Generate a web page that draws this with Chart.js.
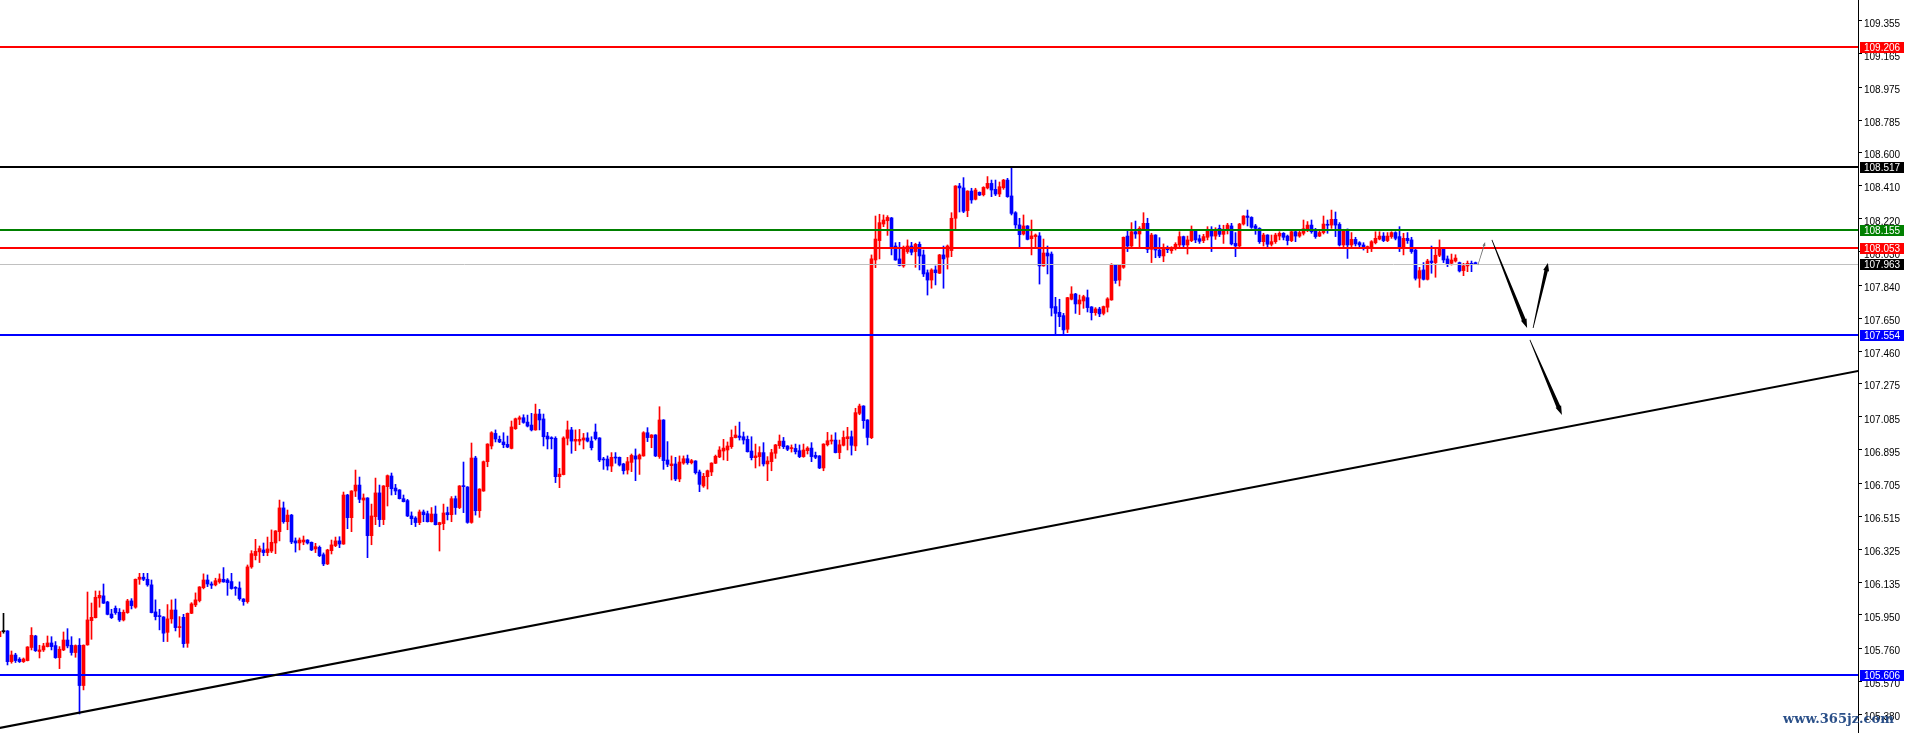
<!DOCTYPE html>
<html>
<head>
<meta charset="utf-8">
<title>USDJPY chart</title>
<script src="https://cdn.jsdelivr.net/npm/chart.js@4.4.1/dist/chart.umd.min.js"></script>
<style>
    html, body { margin: 0; padding: 0; background: #fff; overflow: hidden; }
    #chart { display: block; }
</style>
</head>
<body>
<canvas id="chart" width="1905" height="733"></canvas>
<script>
// --- Candle data (index = bar number, prices) ---
const opens = [
    105.825, 105.854, 105.858, 105.682, 105.720, 105.696, 105.682, 105.688, 105.763, 105.829,
    105.740, 105.749, 105.768, 105.789, 105.774, 105.705, 105.749, 105.806, 105.776, 105.734,
    105.776, 105.545, 105.778, 105.917, 105.934, 106.047, 106.059, 106.024, 105.955, 105.988,
    105.965, 105.921, 105.963, 106.030, 105.994, 106.154, 106.166, 106.154, 106.122, 105.967,
    105.942, 105.938, 105.850, 105.927, 105.978, 105.877, 105.936, 105.787, 105.959, 106.007,
    106.032, 106.106, 106.150, 106.127, 106.122, 106.139, 106.154, 106.150, 106.141, 106.104,
    106.104, 106.041, 106.026, 106.225, 106.290, 106.311, 106.322, 106.307, 106.316, 106.362,
    106.427, 106.563, 106.484, 106.522, 106.374, 106.362, 106.368, 106.379, 106.366, 106.328,
    106.337, 106.295, 106.242, 106.318, 106.347, 106.374, 106.356, 106.637, 106.507, 106.660,
    106.694, 106.608, 106.620, 106.404, 106.513, 106.649, 106.496, 106.685, 106.746, 106.677,
    106.666, 106.616, 106.605, 106.517, 106.505, 106.479, 106.540, 106.530, 106.484, 106.528,
    106.467, 106.473, 106.536, 106.524, 106.616, 106.565, 106.689, 106.683, 106.480, 106.849,
    106.547, 106.660, 106.828, 106.918, 106.990, 106.956, 106.941, 106.927, 106.904, 107.017,
    107.071, 107.080, 107.055, 107.038, 107.010, 107.101, 107.073, 106.975, 106.962, 106.962,
    106.742, 106.754, 106.962, 107.010, 106.946, 106.946, 106.952, 106.964, 106.946, 106.998,
    106.964, 106.843, 106.843, 106.803, 106.853, 106.853, 106.815, 106.780, 106.824, 106.861,
    106.843, 106.861, 106.994, 106.966, 106.981, 106.857, 107.067, 106.838, 106.805, 106.815,
    106.729, 106.820, 106.845, 106.822, 106.832, 106.769, 106.689, 106.742, 106.769, 106.819,
    106.855, 106.889, 106.895, 106.914, 106.966, 106.975, 106.971, 106.956, 106.889, 106.851,
    106.857, 106.880, 106.815, 106.828, 106.876, 106.920, 106.946, 106.918, 106.903, 106.904,
    106.891, 106.857, 106.891, 106.906, 106.864, 106.861, 106.792, 106.925, 106.946, 106.952,
    106.880, 106.922, 106.960, 106.971, 106.918, 107.105, 107.147, 107.067, 106.966, 107.984,
    108.095, 108.190, 108.209, 108.225, 108.064, 107.990, 107.950, 108.032, 108.064, 108.032,
    108.074, 108.013, 107.911, 107.869, 107.927, 107.908, 108.013, 108.000, 108.038, 108.223,
    108.408, 108.397, 108.267, 108.379, 108.332, 108.372, 108.358, 108.397, 108.423, 108.389,
    108.362, 108.398, 108.442, 108.351, 108.255, 108.185, 108.133, 108.179, 108.106, 108.118,
    108.122, 107.950, 108.024, 108.018, 107.717, 107.684, 107.665, 107.587, 107.759, 107.789,
    107.732, 107.749, 107.768, 107.715, 107.682, 107.703, 107.678, 107.713, 107.755, 107.955,
    107.869, 107.942, 108.121, 108.064, 108.146, 108.133, 108.162, 108.194, 108.045, 108.127,
    108.041, 108.007, 108.045, 108.037, 108.051, 108.070, 108.118, 108.070, 108.095, 108.150,
    108.106, 108.095, 108.114, 108.160, 108.121, 108.165, 108.131, 108.156, 108.179, 108.079,
    108.064, 108.190, 108.236, 108.228, 108.179, 108.165, 108.089, 108.127, 108.074, 108.089,
    108.121, 108.137, 108.121, 108.095, 108.146, 108.121, 108.137, 108.160, 108.184, 108.156,
    108.121, 108.141, 108.186, 108.184, 108.217, 108.188, 108.070, 108.160, 108.070, 108.102,
    108.083, 108.070, 108.055, 108.056, 108.083, 108.104, 108.121, 108.095, 108.118, 108.141,
    108.118, 108.051, 108.108, 108.099, 108.041, 107.879, 107.927, 107.873, 107.978, 107.969,
    108.011, 108.045, 107.990, 107.965, 107.978, 107.969, 107.923, 107.950, 107.965, 107.968
];

const highs = [
    105.856, 105.959, 105.860, 105.743, 105.730, 105.705, 105.703, 105.768, 105.877, 105.833,
    105.776, 105.787, 105.829, 105.825, 105.797, 105.768, 105.852, 105.871, 105.825, 105.778,
    105.814, 105.778, 106.081, 106.018, 106.087, 106.087, 106.127, 106.028, 105.982, 106.001,
    105.986, 105.978, 106.039, 106.043, 106.156, 106.188, 106.188, 106.188, 106.150, 106.036,
    105.982, 105.940, 106.009, 106.036, 106.041, 105.940, 105.953, 105.961, 106.020, 106.076,
    106.112, 106.185, 106.179, 106.139, 106.160, 106.185, 106.221, 106.158, 106.188, 106.112,
    106.139, 106.043, 106.236, 106.318, 106.383, 106.345, 106.362, 106.396, 106.437, 106.433,
    106.608, 106.597, 106.551, 106.526, 106.391, 106.391, 106.402, 106.381, 106.368, 106.360,
    106.345, 106.305, 106.326, 106.379, 106.396, 106.398, 106.654, 106.641, 106.662, 106.780,
    106.740, 106.643, 106.622, 106.585, 106.734, 106.694, 106.691, 106.752, 106.763, 106.698,
    106.668, 106.637, 106.612, 106.540, 106.513, 106.551, 106.551, 106.545, 106.565, 106.574,
    106.481, 106.585, 106.568, 106.628, 106.631, 106.691, 106.826, 106.685, 106.935, 106.859,
    106.673, 106.832, 106.931, 107.000, 107.010, 106.975, 106.994, 106.975, 107.061, 107.078,
    107.090, 107.097, 107.095, 107.105, 107.158, 107.128, 107.101, 106.996, 106.971, 106.971,
    106.790, 106.971, 107.061, 107.025, 107.010, 107.013, 106.990, 106.994, 106.971, 107.044,
    106.966, 106.853, 106.861, 106.880, 106.880, 106.855, 106.819, 106.853, 106.872, 106.901,
    106.872, 107.000, 107.023, 106.983, 106.983, 107.143, 107.069, 106.943, 106.861, 106.853,
    106.861, 106.861, 106.866, 106.841, 106.834, 106.780, 106.761, 106.780, 106.822, 106.866,
    106.914, 106.956, 106.941, 107.010, 107.032, 107.055, 106.998, 106.975, 106.971, 106.929,
    106.914, 106.937, 106.857, 106.899, 106.927, 106.981, 106.967, 106.920, 106.924, 106.929,
    106.924, 106.929, 106.914, 106.937, 106.883, 106.863, 106.931, 106.996, 106.981, 106.994,
    106.952, 107.004, 107.025, 107.004, 107.134, 107.158, 107.149, 107.069, 108.013, 108.236,
    108.246, 108.242, 108.238, 108.228, 108.083, 108.085, 108.064, 108.099, 108.085, 108.080,
    108.087, 108.041, 107.927, 107.934, 107.950, 108.016, 108.064, 108.070, 108.255, 108.410,
    108.423, 108.456, 108.381, 108.395, 108.395, 108.374, 108.404, 108.462, 108.442, 108.442,
    108.431, 108.446, 108.452, 108.517, 108.261, 108.223, 108.242, 108.181, 108.213, 108.133,
    108.141, 108.104, 108.064, 108.030, 107.770, 107.759, 107.678, 107.770, 107.831, 107.793,
    107.783, 107.782, 107.812, 107.717, 107.711, 107.713, 107.720, 107.768, 107.963, 107.957,
    107.959, 108.116, 108.152, 108.198, 108.207, 108.175, 108.255, 108.223, 108.137, 108.129,
    108.112, 108.076, 108.064, 108.060, 108.083, 108.146, 108.121, 108.121, 108.179, 108.156,
    108.127, 108.131, 108.175, 108.175, 108.169, 108.184, 108.183, 108.194, 108.194, 108.141,
    108.194, 108.238, 108.270, 108.232, 108.188, 108.169, 108.137, 108.129, 108.127, 108.137,
    108.146, 108.141, 108.127, 108.152, 108.148, 108.156, 108.213, 108.204, 108.213, 108.165,
    108.152, 108.236, 108.213, 108.270, 108.259, 108.198, 108.160, 108.162, 108.141, 108.114,
    108.089, 108.083, 108.064, 108.095, 108.146, 108.146, 108.141, 108.141, 108.146, 108.146,
    108.175, 108.137, 108.141, 108.114, 108.045, 107.942, 107.969, 107.988, 108.064, 108.045,
    108.099, 108.047, 108.007, 108.018, 108.014, 107.972, 107.965, 107.978, 107.978, 107.972
];

const lows = [
    105.823, 105.845, 105.663, 105.673, 105.677, 105.677, 105.677, 105.686, 105.749, 105.740,
    105.703, 105.740, 105.766, 105.749, 105.701, 105.642, 105.745, 105.761, 105.719, 105.707,
    105.382, 105.520, 105.776, 105.810, 105.932, 105.994, 106.015, 105.950, 105.929, 105.953,
    105.912, 105.915, 105.959, 105.984, 105.988, 106.125, 106.146, 106.114, 105.961, 105.921,
    105.864, 105.797, 105.797, 105.902, 105.858, 105.822, 105.764, 105.764, 105.957, 105.997,
    106.024, 106.099, 106.112, 106.101, 106.116, 106.131, 106.137, 106.062, 106.097, 106.062,
    106.034, 106.005, 106.017, 106.217, 106.265, 106.250, 106.289, 106.289, 106.307, 106.301,
    106.374, 106.475, 106.438, 106.358, 106.310, 106.322, 106.352, 106.356, 106.318, 106.307,
    106.284, 106.232, 106.238, 106.299, 106.341, 106.335, 106.354, 106.444, 106.427, 106.628,
    106.593, 106.501, 106.278, 106.352, 106.467, 106.456, 106.467, 106.574, 106.637, 106.639,
    106.614, 106.597, 106.513, 106.467, 106.456, 106.467, 106.484, 106.482, 106.482, 106.465,
    106.316, 106.438, 106.494, 106.484, 106.526, 106.559, 106.536, 106.475, 106.475, 106.522,
    106.509, 106.658, 106.799, 106.901, 106.941, 106.937, 106.908, 106.908, 106.901, 107.013,
    107.040, 107.048, 107.027, 107.004, 107.008, 107.010, 106.918, 106.901, 106.901, 106.708,
    106.679, 106.752, 106.924, 106.876, 106.891, 106.924, 106.901, 106.941, 106.895, 106.952,
    106.828, 106.784, 106.780, 106.771, 106.819, 106.803, 106.757, 106.757, 106.771, 106.719,
    106.755, 106.859, 106.943, 106.908, 106.857, 106.847, 106.784, 106.799, 106.723, 106.719,
    106.713, 106.813, 106.813, 106.815, 106.757, 106.656, 106.681, 106.671, 106.748, 106.817,
    106.851, 106.838, 106.834, 106.904, 106.964, 106.952, 106.929, 106.883, 106.838, 106.792,
    106.803, 106.803, 106.719, 106.776, 106.847, 106.904, 106.903, 106.891, 106.883, 106.872,
    106.851, 106.853, 106.872, 106.828, 106.845, 106.788, 106.776, 106.918, 106.929, 106.878,
    106.845, 106.918, 106.895, 106.866, 106.891, 107.097, 107.019, 106.924, 106.960, 107.940,
    107.990, 108.175, 108.125, 108.013, 107.982, 107.950, 107.942, 108.022, 108.013, 107.942,
    107.927, 107.889, 107.783, 107.822, 107.841, 107.906, 107.822, 107.932, 108.003, 108.156,
    108.259, 108.255, 108.232, 108.309, 108.328, 108.353, 108.351, 108.391, 108.347, 108.353,
    108.347, 108.389, 108.343, 108.242, 108.165, 108.060, 108.127, 108.099, 108.013, 108.057,
    107.846, 107.948, 107.904, 107.663, 107.554, 107.602, 107.554, 107.568, 107.755, 107.678,
    107.671, 107.707, 107.686, 107.640, 107.667, 107.659, 107.669, 107.686, 107.753, 107.850,
    107.835, 107.936, 108.032, 108.056, 108.108, 108.056, 108.156, 108.026, 107.969, 107.997,
    107.997, 107.974, 108.026, 108.022, 108.041, 108.060, 108.060, 108.018, 108.089, 108.083,
    108.079, 108.083, 108.099, 108.032, 108.102, 108.118, 108.079, 108.133, 108.070, 108.003,
    108.060, 108.184, 108.179, 108.165, 108.131, 108.079, 108.064, 108.056, 108.064, 108.079,
    108.099, 108.099, 108.070, 108.089, 108.089, 108.114, 108.127, 108.146, 108.137, 108.108,
    108.118, 108.133, 108.137, 108.165, 108.118, 108.064, 108.060, 107.993, 108.060, 108.064,
    108.056, 108.041, 108.026, 108.032, 108.076, 108.099, 108.089, 108.089, 108.108, 108.099,
    108.032, 108.013, 108.079, 108.022, 107.869, 107.827, 107.869, 107.869, 107.908, 107.885,
    108.003, 107.969, 107.946, 107.955, 107.972, 107.915, 107.894, 107.917, 107.917, 107.958
];

const closes = [
    105.854, 105.854, 105.682, 105.720, 105.688, 105.682, 105.697, 105.766, 105.833, 105.745,
    105.749, 105.772, 105.789, 105.768, 105.705, 105.753, 105.806, 105.772, 105.734, 105.774,
    105.545, 105.776, 105.921, 105.936, 106.051, 106.062, 106.017, 105.953, 105.934, 105.963,
    105.921, 105.965, 106.030, 106.003, 106.154, 106.166, 106.154, 106.122, 105.963, 105.940,
    105.940, 105.845, 105.927, 105.978, 105.877, 105.879, 105.785, 105.959, 106.013, 106.036,
    106.110, 106.150, 106.127, 106.120, 106.146, 106.156, 106.139, 106.135, 106.101, 106.102,
    106.043, 106.026, 106.225, 106.301, 106.314, 106.330, 106.307, 106.328, 106.366, 106.431,
    106.563, 106.484, 106.522, 106.368, 106.362, 106.379, 106.379, 106.362, 106.322, 106.341,
    106.289, 106.242, 106.322, 106.351, 106.374, 106.356, 106.637, 106.507, 106.660, 106.694,
    106.612, 106.620, 106.404, 106.517, 106.649, 106.496, 106.689, 106.748, 106.673, 106.660,
    106.616, 106.599, 106.517, 106.501, 106.479, 106.540, 106.524, 106.484, 106.528, 106.467,
    106.479, 106.534, 106.524, 106.616, 106.565, 106.689, 106.685, 106.480, 106.849, 106.547,
    106.671, 106.828, 106.929, 106.994, 106.958, 106.941, 106.925, 106.912, 107.027, 107.074,
    107.080, 107.053, 107.032, 107.010, 107.101, 107.067, 106.971, 106.958, 106.960, 106.742,
    106.757, 106.964, 107.010, 106.946, 106.956, 106.956, 106.964, 106.946, 106.908, 106.960,
    106.838, 106.838, 106.803, 106.853, 106.849, 106.809, 106.776, 106.828, 106.864, 106.843,
    106.866, 106.994, 106.966, 106.981, 106.861, 107.067, 106.834, 106.813, 106.815, 106.729,
    106.826, 106.845, 106.822, 106.834, 106.765, 106.698, 106.744, 106.776, 106.820, 106.859,
    106.895, 106.906, 106.918, 106.967, 106.981, 106.967, 106.952, 106.885, 106.851, 106.861,
    106.880, 106.815, 106.832, 106.880, 106.924, 106.946, 106.914, 106.899, 106.904, 106.885,
    106.857, 106.895, 106.906, 106.857, 106.853, 106.792, 106.929, 106.948, 106.952, 106.880,
    106.925, 106.967, 106.971, 106.922, 107.109, 107.147, 107.063, 106.967, 107.990, 108.104,
    108.198, 108.213, 108.228, 108.057, 107.984, 107.953, 108.057, 108.064, 108.028, 108.074,
    108.007, 107.904, 107.869, 107.927, 107.911, 108.013, 107.990, 108.064, 108.223, 108.408,
    108.397, 108.263, 108.379, 108.328, 108.385, 108.356, 108.400, 108.423, 108.385, 108.362,
    108.404, 108.442, 108.347, 108.251, 108.185, 108.129, 108.179, 108.102, 108.122, 108.127,
    107.950, 108.024, 108.007, 107.709, 107.678, 107.659, 107.583, 107.768, 107.789, 107.732,
    107.755, 107.774, 107.711, 107.682, 107.703, 107.675, 107.717, 107.761, 107.955, 107.866,
    107.955, 108.114, 108.064, 108.146, 108.133, 108.165, 108.194, 108.045, 108.127, 108.041,
    108.007, 108.045, 108.043, 108.051, 108.074, 108.118, 108.070, 108.099, 108.150, 108.099,
    108.091, 108.118, 108.160, 108.121, 108.160, 108.131, 108.160, 108.184, 108.076, 108.064,
    108.190, 108.236, 108.228, 108.171, 108.165, 108.089, 108.127, 108.074, 108.089, 108.127,
    108.137, 108.114, 108.095, 108.146, 108.121, 108.141, 108.163, 108.184, 108.146, 108.118,
    108.141, 108.190, 108.183, 108.217, 108.184, 108.070, 108.156, 108.070, 108.102, 108.076,
    108.070, 108.056, 108.056, 108.089, 108.108, 108.121, 108.095, 108.121, 108.141, 108.108,
    108.051, 108.108, 108.095, 108.032, 107.879, 107.923, 107.873, 107.978, 107.969, 108.011,
    108.045, 107.984, 107.961, 107.984, 107.995, 107.921, 107.950, 107.965, 107.957, 107.963
];

// price axis labels as printed on the right scale
const yTicks = [
    109.355, 109.165, 108.975, 108.785, 108.600, 108.410, 108.220, 108.030, 107.840, 107.650,
    107.460, 107.275, 107.085, 106.895, 106.705, 106.515, 106.325, 106.135, 105.950, 105.760,
    105.570, 105.380
];

// horizontal levels drawn on the chart (price + marker on the axis)
const levelPrices = [109.206, 108.517, 108.155, 108.053, 107.963, 107.554, 105.606];

// rising trend line, two anchor points (bar index, price)
const trendBars = [-2, 466];
const trendPrices = [105.293, 107.354];

// projected path arrows: [startBar, startPrice, endBar, endPrice]
const arrowSmall = [369.6, 107.955, 371.4, 108.087];
const arrowDown1 = [373.1, 108.099, 381.9, 107.594];
const arrowUp = [383.4, 107.594, 387.1, 107.967];
const arrowDown2 = [382.6, 107.526, 390.6, 107.096];

// --- Styles ---
const BULL = '#ff0000';
const BEAR = '#0000ff';
const levelColors = ['#ff0000', '#000000', '#008000', '#ff0000', '#c0c0c0', '#0000ff', '#0000ff'];
const levelBoxColors = ['#ff0000', '#000000', '#008000', '#ff0000', '#000000', '#0000ff', '#0000ff'];
const levelWidths = [2, 2, 2, 2, 1, 2, 2];
const AXIS_FONT = '10px "Liberation Sans", Arial, sans-serif';

const candleColor = (i) => {
    if (closes[i] > opens[i]) return BULL;
    if (closes[i] < opens[i]) return BEAR;
    return '#000000';
};

const colors = opens.map((o, i) => candleColor(i));
const bodies = opens.map((o, i) => ({ x: i, y: [o, closes[i]] }));
const wicks = opens.map((o, i) => ({ x: i, y: [lows[i], highs[i]] }));

// --- Overlay: levels, trend line, arrows, axis markers, watermark ---
function drawArrow(ctx, xs, ys, width0, width1, headLen, headW, color) {
    const [x0, x1] = xs;
    const [y0, y1] = ys;
    const len = Math.hypot(x1 - x0, y1 - y0);
    const ux = (x1 - x0) / len, uy = (y1 - y0) / len;
    const nx = -uy, ny = ux;
    const bx = x1 - ux * headLen, by = y1 - uy * headLen;
    ctx.fillStyle = color;
    ctx.beginPath();
    ctx.moveTo(x0 + nx * width0 / 2, y0 + ny * width0 / 2);
    ctx.lineTo(bx + nx * width1 / 2, by + ny * width1 / 2);
    ctx.lineTo(bx + nx * headW / 2, by + ny * headW / 2);
    ctx.lineTo(x1, y1);
    ctx.lineTo(bx - nx * headW / 2, by - ny * headW / 2);
    ctx.lineTo(bx - nx * width1 / 2, by - ny * width1 / 2);
    ctx.lineTo(x0 - nx * width0 / 2, y0 - ny * width0 / 2);
    ctx.closePath();
    ctx.fill();
}

const overlay = {
    id: 'overlay',
    afterDatasetsDraw(chart) {
        const { ctx, chartArea: area, scales: { x, y } } = chart;
        ctx.save();
        ctx.beginPath();
        ctx.rect(area.left, area.top, area.right - area.left, area.bottom - area.top);
        ctx.clip();

        // horizontal levels
        levelPrices.forEach((p, i) => {
            const py = Math.round(y.getPixelForValue(p)) + (levelWidths[i] === 1 ? 0.5 : 0);
            ctx.strokeStyle = levelColors[i];
            ctx.lineWidth = levelWidths[i];
            ctx.beginPath();
            ctx.moveTo(area.left, py);
            ctx.lineTo(area.right, py);
            ctx.stroke();
        });

        // trend line
        ctx.strokeStyle = '#000';
        ctx.lineWidth = 2;
        ctx.beginPath();
        ctx.moveTo(x.getPixelForValue(trendBars[0]), y.getPixelForValue(trendPrices[0]));
        ctx.lineTo(x.getPixelForValue(trendBars[1]), y.getPixelForValue(trendPrices[1]));
        ctx.stroke();

        // arrows
        const px = (a) => [x.getPixelForValue(a[0]), x.getPixelForValue(a[2])];
        const py = (a) => [y.getPixelForValue(a[1]), y.getPixelForValue(a[3])];
        drawArrow(ctx, px(arrowSmall), py(arrowSmall), 0.6, 1, 4, 3, '#707070');
        drawArrow(ctx, px(arrowDown1), py(arrowDown1), 0.8, 4, 9, 6, '#000');
        drawArrow(ctx, px(arrowUp), py(arrowUp), 0.8, 3.5, 8, 6, '#000');
        drawArrow(ctx, px(arrowDown2), py(arrowDown2), 0.8, 4, 9, 6, '#000');
        ctx.restore();

        // price markers on the axis
        ctx.save();
        ctx.font = AXIS_FONT;
        ctx.textBaseline = 'middle';
        ctx.textAlign = 'left';
        levelPrices.forEach((p, i) => {
            const cy = Math.round(y.getPixelForValue(p));
            ctx.fillStyle = levelBoxColors[i];
            ctx.fillRect(area.right + 2, cy - 5, 44, 11);
            ctx.fillStyle = '#fff';
            ctx.fillText(p.toFixed(3), area.right + 6, cy + 1);
        });
        ctx.restore();

        // watermark
        ctx.save();
        ctx.font = 'bold 13px "DejaVu Serif", serif';
        ctx.textAlign = 'left';
        ctx.textBaseline = 'alphabetic';
        ctx.fillStyle = 'rgba(31, 70, 130, 0.95)';
        ctx.fillText('www.365jz.com', 1783, 723);
        ctx.restore();
    }
};

// --- Chart ---
const chart = new Chart(document.getElementById('chart').getContext('2d'), {
    type: 'bar',
    data: {
        datasets: [
            {
                label: 'body',
                data: bodies,
                backgroundColor: colors,
                barThickness: 3,
                minBarLength: 1,
                grouped: false,
                order: 0
            },
            {
                label: 'wick',
                data: wicks,
                backgroundColor: colors,
                barThickness: 1,
                grouped: false,
                order: 1
            }
        ]
    },
    options: {
        responsive: false,
        animation: false,
        devicePixelRatio: 1,
        layout: { padding: 0 },
        plugins: {
            legend: { display: false },
            tooltip: { enabled: false }
        },
        scales: {
            x: {
                type: 'linear',
                min: 0.125,
                max: 464.625,
                offset: false,
                grid: { offset: false },
                display: false
            },
            y: {
                position: 'right',
                min: 105.273,
                max: 109.474,
                afterBuildTicks: (s) => { s.ticks = yTicks.map(v => ({ value: v })); },
                afterFit: (s) => {
                    s.width = 47;
                    s.paddingTop = 0;
                    s.paddingBottom = 0;
                },
                grid: {
                    drawOnChartArea: false,
                    drawTicks: true,
                    tickLength: 4,
                    color: '#000'
                },
                border: { display: true, color: '#000', width: 1 },
                ticks: {
                    autoSkip: false,
                    padding: 2,
                    labelOffset: 3,
                    color: '#000',
                    font: { family: '"Liberation Sans", Arial, sans-serif', size: 10 },
                    callback: (v) => Number(v).toFixed(3)
                }
            }
        }
    },
    plugins: [overlay]
});
</script>
</body>
</html>
